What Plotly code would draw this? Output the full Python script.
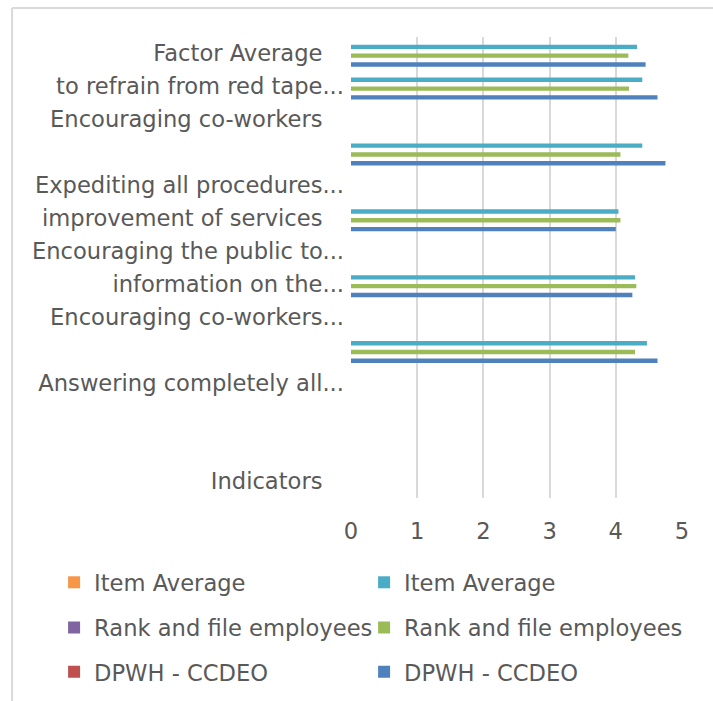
import plotly.graph_objects as go

# Indicator rows, listed from the bottom of the chart to the top.
categories = [
    "Indicators", " ", "  ", "Answering completely all...", "   ",
    "Encouraging co-workers...", "information on the...",
    "Encouraging the public to...", "improvement of services",
    "Expediting all procedures...", "    ", "Encouraging co-workers",
    "to refrain from red tape...", "Factor Average",
]
NB = "\u00a0" * 3
tick_labels = [
    "Indicators" + NB, "", "", "Answering completely all...", "",
    "Encouraging co-workers...", "information on the...",
    "Encouraging the public to...", "improvement of services" + NB,
    "Expediting all procedures...", "", "Encouraging co-workers" + NB,
    "to refrain from red tape...", "Factor Average" + NB,
]

# Mean ratings per row (None where a row holds no bar).
dpwh_ccdeo = [None, None, None, None, 4.63, None, 4.25, None, 4.00, None, 4.75, None, 4.63, 4.45]
rank_and_file = [None, None, None, None, 4.29, None, 4.31, None, 4.07, None, 4.07, None, 4.20, 4.19]
item_average = [None, None, None, None, 4.47, None, 4.29, None, 4.04, None, 4.40, None, 4.40, 4.32]
empty = [None] * len(categories)

x_ticks = [0, 1, 2, 3, 4, 5]

TEXT = "#595959"
GRID = "#d9d9d9"
FONT = "DejaVu Sans"
FS = 22.6

# (name, values, colour, legend row, legend column width)
series = [
    ("DPWH - CCDEO", dpwh_ccdeo, "#4F81BD", "legend3", 295),
    ("DPWH - CCDEO", empty, "#C0504D", "legend3", 265),
    ("Rank and file employees", rank_and_file, "#9BBB59", "legend2", 295),
    ("Rank and file employees", empty, "#8064A2", "legend2", 265),
    ("Item Average", item_average, "#4BACC6", "legend", 295),
    ("Item Average", empty, "#F79646", "legend", 265),
]

fig = go.Figure()
for name, vals, color, leg, lw in series:
    fig.add_trace(go.Bar(
        y=categories, x=vals, name=name, orientation="h",
        marker=dict(color=color, line=dict(width=0)),
        legend=leg, legendwidth=lw, showlegend=True,
    ))

legend_common = dict(
    orientation="h", xref="paper", yref="paper", x=-0.897, xanchor="left",
    yanchor="middle", traceorder="reversed",
    font=dict(family=FONT, size=FS, color=TEXT),
    bgcolor="rgba(0,0,0,0)", borderwidth=0,
)

fig.update_layout(
    width=713, height=701,
    margin=dict(l=351, r=31, t=37, b=203, autoexpand=False),
    paper_bgcolor="white", plot_bgcolor="white",
    barmode="group", bargap=0.2, bargroupgap=0,
    font=dict(family=FONT, size=FS, color=TEXT),
    xaxis=dict(
        range=[0, 5], tickvals=x_ticks, showgrid=True, gridcolor=GRID,
        gridwidth=2, zeroline=False, showline=False, ticks="",
        ticklabelstandoff=17, tickfont=dict(family=FONT, size=FS, color=TEXT),
    ),
    yaxis=dict(
        type="category", categoryorder="array", categoryarray=categories,
        tickmode="array", tickvals=categories, ticktext=tick_labels,
        showgrid=False, zeroline=False, showline=False, ticks="",
        ticklabelstandoff=6, tickfont=dict(family=FONT, size=FS, color=TEXT),
    ),
    legend=dict(legend_common, y=-0.1835),
    legend2=dict(legend_common, y=-0.2815),
    legend3=dict(legend_common, y=-0.3775),
    shapes=[
        dict(type="line", xref="paper", yref="paper", x0=-1.024, x1=1.2,
             y0=1.0629, y1=1.0629, line=dict(color=GRID, width=2)),
        dict(type="line", xref="paper", yref="paper", x0=-1.024, x1=-1.024,
             y0=1.0629, y1=-0.5, line=dict(color=GRID, width=2)),
    ],
)

fig.write_html("out.html")
